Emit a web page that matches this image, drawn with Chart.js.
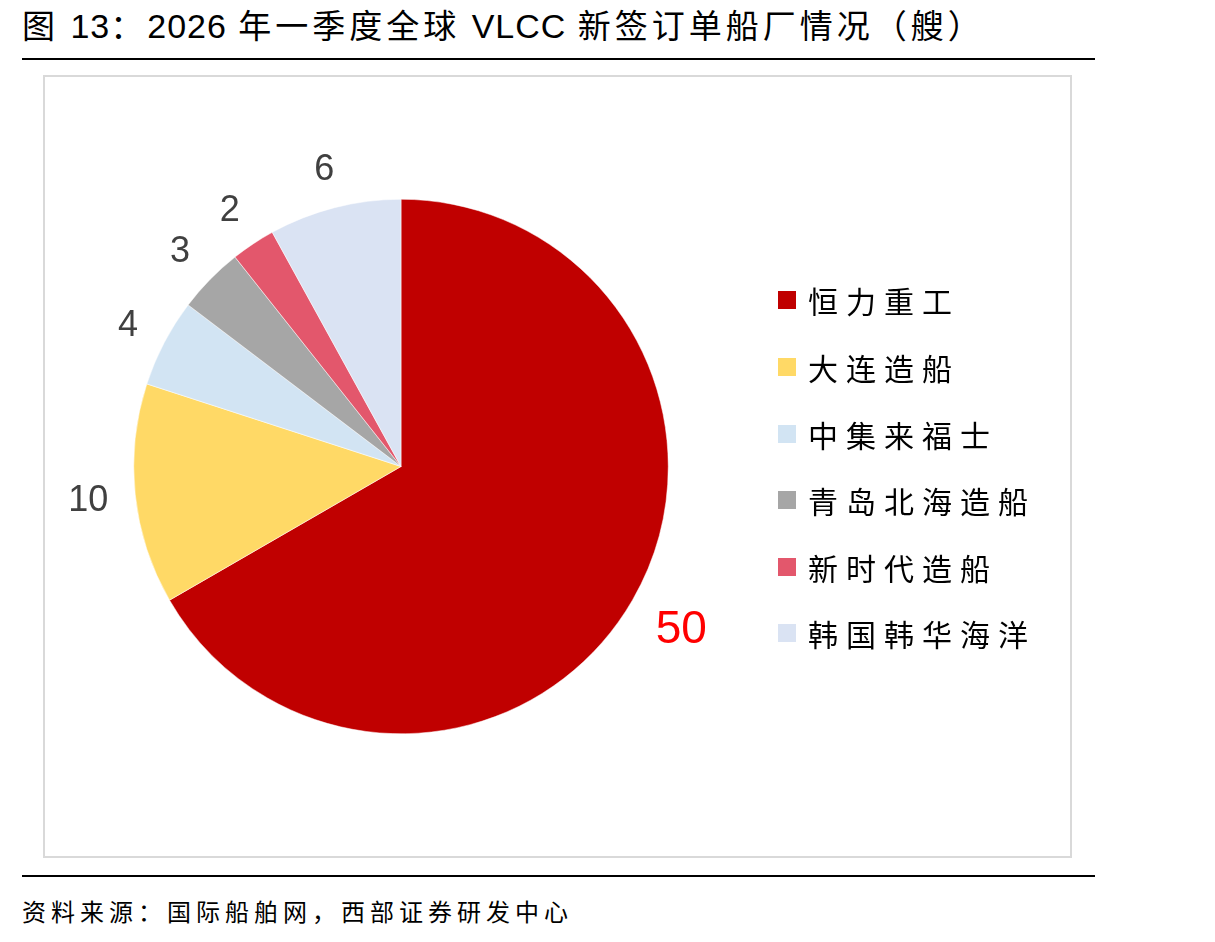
<!DOCTYPE html>
<html>
<head>
<meta charset="utf-8">
<script src="https://cdn.jsdelivr.net/npm/chart.js@4.4.1/dist/chart.umd.min.js"></script>
<style>
  body { margin: 0; width: 1215px; height: 942px; background: #fff; position: relative; overflow: hidden;
         font-family: "Liberation Sans", "Noto Sans CJK SC", sans-serif; }
  #title { position: absolute; left: 22px; top: 0px; font-size: 33px; letter-spacing: 4px; color: #000; white-space: nowrap;
           font-family: "Noto Sans CJK SC", sans-serif; text-spacing-trim: space-all; }
  #title span { font-family: "Liberation Sans", Arial, sans-serif; font-size: 34px; letter-spacing: 1px; }
  .rule { position: absolute; left: 22px; width: 1073px; height: 2px; background: #000; }
  #box { position: absolute; left: 43px; top: 75px; width: 1029px; height: 783px;
         border: 2px solid #d9d9d9; box-sizing: border-box; }
  #wrap { position: absolute; left: 45px; top: 77px; width: 1025px; height: 779px; }
  #legend { position: absolute; left: 778px; top: 0; }
  .item { position: absolute; left: 0; white-space: nowrap; font-size: 30px; letter-spacing: 8px;
          font-family: "Noto Sans CJK SC", sans-serif; color: #000; line-height: 36px; }
  .item span.sw { position: absolute; left: 0; top: 9px; width: 18px; height: 18px; }
  .item span.tx { position: absolute; left: 30px; top: 0; }
  #source { position: absolute; left: 22px; top: 893px; font-size: 24px; letter-spacing: 5px; white-space: nowrap;
            font-family: "Noto Sans CJK SC", sans-serif; color: #000; }
</style>
</head>
<body>
<div id="title">图 <span>13</span>：<span>2026</span> 年一季度全球 <span>VLCC</span> 新签订单船厂情况（艘）</div>
<div class="rule" style="top:58px"></div>
<div id="box"></div>
<div id="wrap"><canvas id="chart"></canvas></div>
<div id="legend"></div>
<div class="rule" style="top:875px"></div>
<div id="source">资料来源：国际船舶网，西部证券研发中心</div>
<script>
const yards = ['恒力重工', '大连造船', '中集来福士', '青岛北海造船', '新时代造船', '韩国韩华海洋'];
const ships = [50, 10, 4, 3, 2, 6];
const colors = ['#C00000', '#FFD966', '#D2E4F3', '#A6A6A6', '#E3576C', '#DAE3F3'];

// legend rows (page y of each row centre)
const legendRows = [300, 367, 434, 500, 567, 633];
const legend = document.getElementById('legend');
yards.forEach(function (name, i) {
    const row = document.createElement('div');
    row.className = 'item';
    row.style.top = (legendRows[i] - 18) + 'px';
    row.innerHTML = '<span class="sw" style="background:' + colors[i] + '"></span><span class="tx">' + name + '</span>';
    legend.appendChild(row);
});

// values outside the slices
const outsideLabels = {
    id: 'outsideLabels',
    afterDatasetsDraw(chart) {
        const ctx = chart.ctx;
        const meta = chart.getDatasetMeta(0);
        const gap = 26;
        meta.data.forEach(function (arc, i) {
            const big = i === 0;
            const size = big ? 46 : 36;
            ctx.save();
            ctx.font = size + 'px "Liberation Sans", Arial, sans-serif';
            ctx.fillStyle = big ? '#FF0000' : '#404040';
            ctx.textAlign = 'center';
            ctx.textBaseline = 'middle';
            const txt = String(ships[i]);
            const halfW = ctx.measureText(txt).width / 2;
            const halfH = size * 0.36;
            const mid = (arc.startAngle + arc.endAngle) / 2;
            const c = Math.cos(mid), s = Math.sin(mid);
            const r = arc.outerRadius + gap + halfW * Math.abs(c) + halfH * Math.abs(s);
            ctx.fillText(txt, arc.x + c * r, arc.y + s * r + 2);
            ctx.restore();
        });
    }
};

new Chart(document.getElementById('chart'), {
    type: 'pie',
    data: {
        labels: yards,
        datasets: [{
            data: ships,
            backgroundColor: colors,
            borderColor: '#ffffff',
            borderWidth: 0.5
        }]
    },
    options: {
        responsive: true,
        maintainAspectRatio: false,
        animation: false,
        layout: { padding: { left: 88, right: 401, top: 122, bottom: 122 } },
        plugins: {
            legend: { display: false },
            tooltip: { enabled: false }
        }
    },
    plugins: [outsideLabels]
});
</script>
</body>
</html>
